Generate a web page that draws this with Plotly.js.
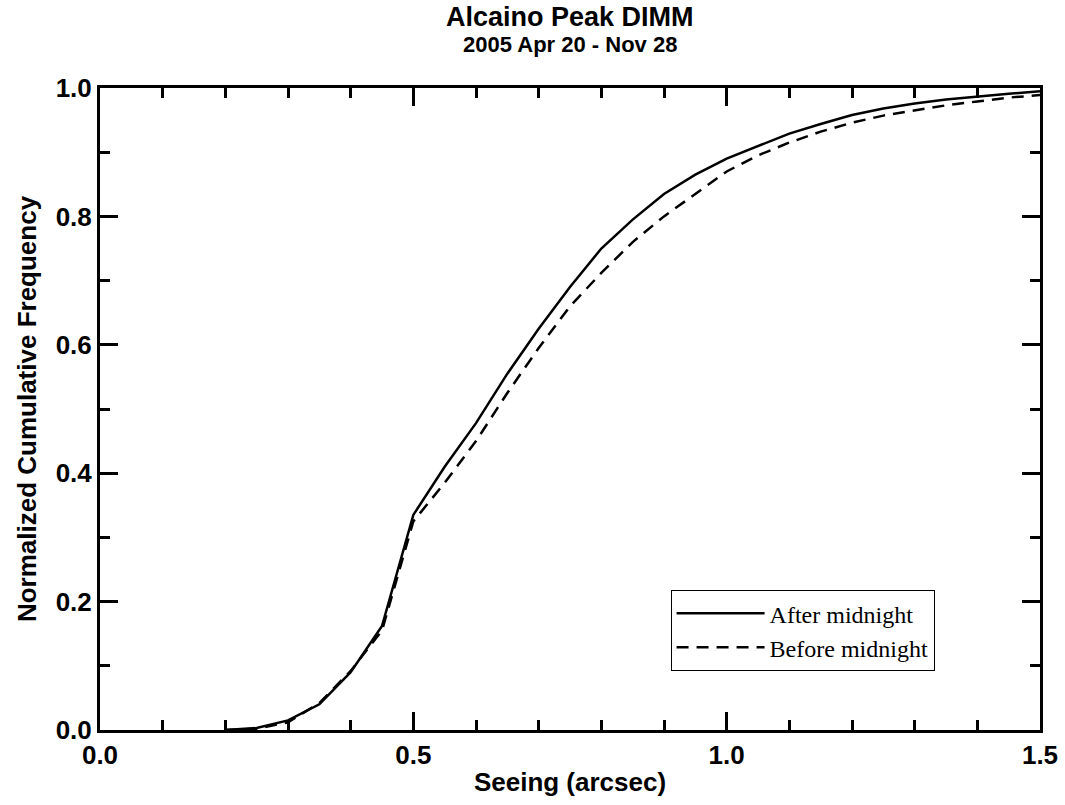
<!DOCTYPE html>
<html>
<head>
<meta charset="utf-8">
<script src="https://cdn.plot.ly/plotly-3.0.1.min.js"></script>
<style>body{margin:0;padding:0;background:#fff;} #chart{width:1065px;height:805px;}</style>
</head>
<body>
<div id="chart"></div>
<script>
const seeing = [0.20,0.25,0.30,0.35,0.40,0.45,0.50,0.55,0.60,0.65,0.70,0.75,0.80,0.85,0.90,0.95,1.00,1.05,1.10,1.15,1.20,1.25,1.30,1.35,1.40,1.45,1.50];
const afterMidnight = [0.000,0.003,0.015,0.040,0.090,0.162,0.335,0.410,0.478,0.555,0.625,0.690,0.750,0.795,0.835,0.865,0.890,0.910,0.929,0.944,0.958,0.968,0.976,0.982,0.987,0.991,0.995];
const beforeMidnight = [0.000,0.002,0.012,0.042,0.092,0.155,0.325,0.385,0.450,0.525,0.595,0.660,0.712,0.760,0.800,0.835,0.870,0.895,0.915,0.932,0.946,0.957,0.965,0.973,0.979,0.985,0.989];
const xTicks = [0.0,0.5,1.0,1.5];
const xTickLabels = ["0.0","0.5","1.0","1.5"];
const yTicks = [0.0,0.2,0.4,0.6,0.8,1.0];
const yTickLabels = ["0.0","0.2","0.4","0.6","0.8","1.0"];
const titleText = "Alcaino Peak DIMM";
const subtitleText = "2005 Apr 20 - Nov 28";

const traces = [
  {x: seeing, y: afterMidnight, name: "After midnight", mode: "lines", line: {color: "#000", width: 2.5, dash: "solid"}},
  {x: seeing, y: beforeMidnight, name: "Before midnight", mode: "lines", line: {color: "#000", width: 2.5, dash: "12px,8px"}}
];

const sans = "Liberation Sans, Arial, sans-serif";
const axBase = {
  showgrid: false, zeroline: false, showline: true, linecolor: "#000", linewidth: 3, mirror: "allticks",
  ticks: "inside", ticklen: 18, tickwidth: 3, tickcolor: "#000",
  tickfont: {family: sans, size: 26, color: "#000", weight: "bold"},
  minor: {ticks: "inside", ticklen: 10, tickwidth: 3, tickcolor: "#000", dtick: 0.1, showgrid: false}
};

const layout = {
  width: 1065, height: 805,
  margin: {l: 100, r: 25, t: 88, b: 75},
  paper_bgcolor: "#fff", plot_bgcolor: "#fff",
  showlegend: true,
  annotations: [
    {text: "<b>" + titleText + "</b>", xref: "paper", yref: "paper", x: 0.5, y: 1.1106, xanchor: "center", yanchor: "middle",
     showarrow: false, font: {family: sans, size: 27, color: "#000"}},
    {text: "<b>" + subtitleText + "</b>", xref: "paper", yref: "paper", x: 0.5, y: 1.067, xanchor: "center", yanchor: "middle",
     showarrow: false, font: {family: sans, size: 22, color: "#000"}}
  ],
  xaxis: Object.assign({}, axBase, {
    range: [0, 1.5], tickvals: xTicks, ticktext: xTickLabels,
    title: {text: "<b>Seeing (arcsec)</b>", standoff: 4, font: {family: sans, size: 26, color: "#000"}}
  }),
  yaxis: Object.assign({}, axBase, {
    range: [0, 1.0], tickvals: yTicks, ticktext: yTickLabels,
    title: {text: "<b>Normalized Cumulative Frequency</b>", standoff: 12, font: {family: sans, size: 26, color: "#000"}}
  }),
  legend: {
    x: 0.607, xanchor: "left", y: 0.218, yanchor: "top",
    bgcolor: "#fff", bordercolor: "#000", borderwidth: 1,
    font: {family: "Liberation Serif, Times New Roman, serif", size: 24, color: "#000"},
    itemwidth: 88, tracegroupgap: 0
  }
};

Plotly.newPlot("chart", traces, layout, {displayModeBar: false, staticPlot: true});
</script>
</body>
</html>
